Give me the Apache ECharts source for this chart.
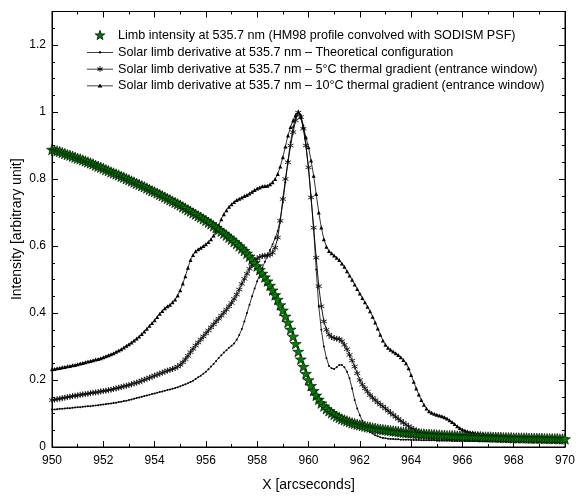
<!DOCTYPE html>
<html><head><meta charset="utf-8">
<script src="https://cdn.jsdelivr.net/npm/echarts@6/dist/echarts.min.js"></script>
<style>html,body{margin:0;padding:0;background:#fff}#c{width:577px;height:500px}</style>
</head><body><div id="c"></div>
<script>
const xArcsec = [
950.0,950.1,950.2,950.3,950.4,950.5,950.6,950.7,950.8,950.9,
951.0,951.1,951.2,951.3,951.4,951.5,951.6,951.7,951.8,951.9,
952.0,952.1,952.2,952.3,952.4,952.5,952.6,952.7,952.8,952.9,
953.0,953.1,953.2,953.3,953.4,953.5,953.6,953.7,953.8,953.9,
954.0,954.1,954.2,954.3,954.4,954.5,954.6,954.7,954.8,954.9,
955.0,955.1,955.2,955.3,955.4,955.5,955.6,955.7,955.8,955.9,
956.0,956.1,956.2,956.3,956.4,956.5,956.6,956.7,956.8,956.9,
957.0,957.1,957.2,957.3,957.4,957.5,957.6,957.7,957.8,957.9,
958.0,958.1,958.2,958.3,958.4,958.5,958.6,958.7,958.8,958.9,
959.0,959.1,959.2,959.3,959.4,959.5,959.6,959.7,959.8,959.9,
960.0,960.1,960.2,960.3,960.4,960.5,960.6,960.7,960.8,960.9,
961.0,961.1,961.2,961.3,961.4,961.5,961.6,961.7,961.8,961.9,
962.0,962.1,962.2,962.3,962.4,962.5,962.6,962.7,962.8,962.9,
963.0,963.1,963.2,963.3,963.4,963.5,963.6,963.7,963.8,963.9,
964.0,964.1,964.2,964.3,964.4,964.5,964.6,964.7,964.8,964.9,
965.0,965.1,965.2,965.3,965.4,965.5,965.6,965.7,965.8,965.9,
966.0,966.1,966.2,966.3,966.4,966.5,966.6,966.7,966.8,966.9,
967.0,967.1,967.2,967.3,967.4,967.5,967.6,967.7,967.8,967.9,
968.0,968.1,968.2,968.3,968.4,968.5,968.6,968.7,968.8,968.9,
969.0,969.1,969.2,969.3,969.4,969.5,969.6,969.7,969.8,969.9,
970.0];

const limbIntensity = [
0.888,0.886,0.884,0.882,0.879,0.876,0.873,0.871,0.868,0.865,
0.862,0.860,0.857,0.854,0.851,0.848,0.845,0.841,0.838,0.835,
0.832,0.828,0.825,0.821,0.818,0.815,0.812,0.808,0.805,0.801,
0.798,0.794,0.791,0.787,0.784,0.780,0.777,0.773,0.769,0.765,
0.762,0.758,0.754,0.750,0.746,0.742,0.738,0.734,0.730,0.726,
0.722,0.717,0.713,0.708,0.704,0.699,0.695,0.690,0.686,0.681,
0.676,0.671,0.666,0.660,0.655,0.649,0.644,0.638,0.632,0.626,
0.620,0.613,0.607,0.600,0.593,0.586,0.578,0.569,0.560,0.550,
0.540,0.529,0.518,0.507,0.495,0.482,0.468,0.454,0.440,0.424,
0.408,0.390,0.372,0.351,0.330,0.308,0.285,0.262,0.240,0.219,
0.200,0.183,0.168,0.154,0.142,0.131,0.122,0.114,0.108,0.102,
0.097,0.092,0.088,0.084,0.081,0.078,0.075,0.072,0.070,0.068,
0.066,0.064,0.062,0.060,0.059,0.057,0.056,0.054,0.053,0.052,
0.051,0.050,0.049,0.048,0.047,0.046,0.045,0.044,0.043,0.043,
0.042,0.041,0.040,0.040,0.039,0.039,0.038,0.038,0.037,0.037,
0.036,0.036,0.035,0.035,0.034,0.034,0.034,0.034,0.033,0.033,
0.032,0.032,0.032,0.032,0.031,0.031,0.031,0.031,0.030,0.030,
0.030,0.030,0.029,0.029,0.029,0.029,0.028,0.028,0.028,0.028,
0.027,0.027,0.027,0.027,0.027,0.027,0.026,0.026,0.026,0.026,
0.026,0.026,0.025,0.025,0.025,0.025,0.025,0.025,0.024,0.024,
0.024];

const derivTheoretical = [
0.112,0.112,0.113,0.114,0.114,0.115,0.116,0.116,0.117,0.118,
0.119,0.119,0.120,0.121,0.122,0.122,0.123,0.124,0.125,0.126,
0.127,0.128,0.129,0.130,0.131,0.132,0.134,0.135,0.137,0.138,
0.140,0.142,0.144,0.146,0.148,0.150,0.152,0.154,0.156,0.158,
0.160,0.162,0.164,0.166,0.168,0.170,0.172,0.174,0.176,0.178,
0.181,0.184,0.187,0.190,0.194,0.198,0.203,0.208,0.213,0.219,
0.225,0.232,0.240,0.248,0.257,0.266,0.274,0.282,0.289,0.296,
0.302,0.309,0.320,0.334,0.352,0.375,0.400,0.425,0.450,0.473,
0.495,0.515,0.535,0.553,0.570,0.588,0.605,0.623,0.645,0.680,
0.730,0.790,0.855,0.910,0.955,0.985,1.000,0.990,0.960,0.900,
0.830,0.745,0.650,0.530,0.420,0.350,0.300,0.265,0.242,0.235,
0.233,0.238,0.245,0.245,0.238,0.225,0.205,0.175,0.140,0.115,
0.095,0.078,0.065,0.054,0.045,0.040,0.035,0.032,0.029,0.027,
0.026,0.025,0.024,0.024,0.023,0.023,0.022,0.022,0.022,0.022,
0.021,0.021,0.021,0.021,0.020,0.020,0.020,0.020,0.020,0.020,
0.019,0.019,0.019,0.019,0.019,0.019,0.018,0.018,0.018,0.018,
0.018,0.018,0.018,0.018,0.018,0.018,0.017,0.017,0.017,0.017,
0.017,0.017,0.017,0.017,0.017,0.017,0.017,0.017,0.016,0.016,
0.016,0.016,0.016,0.016,0.016,0.016,0.016,0.016,0.016,0.016,
0.016,0.016,0.015,0.015,0.015,0.015,0.015,0.015,0.015,0.015,
0.015];

const deriv5C = [
0.140,0.141,0.143,0.144,0.146,0.147,0.149,0.150,0.152,0.153,
0.154,0.156,0.157,0.158,0.159,0.161,0.162,0.163,0.164,0.166,
0.167,0.168,0.170,0.171,0.173,0.175,0.177,0.179,0.181,0.183,
0.185,0.187,0.190,0.192,0.195,0.198,0.201,0.204,0.207,0.210,
0.213,0.216,0.219,0.222,0.225,0.228,0.230,0.233,0.236,0.240,
0.245,0.253,0.262,0.272,0.283,0.293,0.303,0.312,0.321,0.330,
0.339,0.348,0.357,0.366,0.375,0.383,0.392,0.401,0.410,0.420,
0.430,0.442,0.455,0.470,0.487,0.502,0.517,0.532,0.545,0.555,
0.562,0.567,0.570,0.571,0.572,0.574,0.580,0.595,0.625,0.675,
0.740,0.800,0.850,0.900,0.940,0.975,0.998,0.985,0.950,0.900,
0.835,0.745,0.655,0.565,0.480,0.420,0.375,0.350,0.335,0.328,
0.325,0.323,0.322,0.316,0.305,0.292,0.275,0.258,0.240,0.220,
0.200,0.186,0.175,0.165,0.155,0.147,0.140,0.133,0.127,0.121,
0.115,0.108,0.102,0.096,0.090,0.084,0.078,0.072,0.067,0.062,
0.057,0.053,0.049,0.045,0.042,0.039,0.037,0.035,0.033,0.031,
0.030,0.030,0.029,0.029,0.028,0.028,0.027,0.027,0.027,0.027,
0.026,0.026,0.026,0.026,0.025,0.025,0.025,0.025,0.024,0.024,
0.024,0.024,0.024,0.024,0.023,0.023,0.023,0.023,0.023,0.023,
0.022,0.022,0.022,0.022,0.022,0.022,0.021,0.021,0.021,0.021,
0.021,0.021,0.021,0.021,0.020,0.020,0.020,0.020,0.020,0.020,
0.020];

const deriv10C = [
0.232,0.233,0.235,0.236,0.238,0.239,0.241,0.242,0.244,0.245,
0.247,0.249,0.251,0.253,0.255,0.257,0.259,0.261,0.263,0.265,
0.268,0.271,0.274,0.277,0.280,0.284,0.288,0.292,0.297,0.302,
0.307,0.312,0.318,0.324,0.330,0.337,0.345,0.353,0.362,0.370,
0.378,0.388,0.398,0.406,0.414,0.420,0.425,0.432,0.440,0.452,
0.468,0.488,0.510,0.535,0.558,0.573,0.584,0.590,0.595,0.600,
0.605,0.612,0.620,0.631,0.645,0.662,0.680,0.695,0.707,0.717,
0.725,0.731,0.737,0.741,0.745,0.749,0.752,0.757,0.762,0.767,
0.772,0.775,0.778,0.779,0.780,0.784,0.790,0.800,0.815,0.837,
0.865,0.897,0.930,0.955,0.975,0.992,1.000,0.985,0.955,0.925,
0.895,0.855,0.810,0.755,0.700,0.655,0.620,0.598,0.585,0.578,
0.572,0.565,0.558,0.548,0.538,0.525,0.512,0.499,0.485,0.472,
0.458,0.445,0.432,0.419,0.405,0.389,0.372,0.354,0.335,0.318,
0.305,0.296,0.290,0.285,0.280,0.275,0.268,0.260,0.250,0.235,
0.215,0.195,0.175,0.157,0.140,0.126,0.115,0.107,0.102,0.099,
0.096,0.094,0.092,0.089,0.085,0.080,0.075,0.069,0.062,0.057,
0.052,0.049,0.046,0.044,0.043,0.041,0.040,0.039,0.038,0.037,
0.036,0.036,0.035,0.035,0.034,0.034,0.033,0.033,0.032,0.032,
0.031,0.031,0.030,0.030,0.030,0.030,0.029,0.029,0.028,0.028,
0.028,0.028,0.027,0.027,0.027,0.027,0.026,0.026,0.026,0.026,
0.025];

const seriesNames = [
  'Limb intensity at 535.7 nm (HM98 profile convolved with SODISM PSF)',
  'Solar limb derivative at 535.7 nm \u2013 Theoretical configuration',
  'Solar limb derivative at 535.7 nm \u2013 5\u00b0C thermal gradient (entrance window)',
  'Solar limb derivative at 535.7 nm \u2013 10\u00b0C thermal gradient (entrance window)'
];
const xAxisTitle = 'X [arcseconds]';
const yAxisTitle = 'Intensity [arbitrary unit]';

const pairs = ys => xArcsec.map((x, i) => [x, ys[i]]);
const FONT = 'Liberation Sans';
const STAR = 'path://M0,-10L2.35,-3.24L9.51,-3.09L3.8,1.24L5.88,8.09L0,4L-5.88,8.09L-3.8,1.24L-9.51,-3.09L-2.35,-3.24Z';
const ASTER = 'path://M0,-5L0,5M-4.33,-2.5L4.33,2.5M-4.33,2.5L4.33,-2.5';

// legend icons drawn in a 26x12 box; tiny specks pin the bounding box
const BOX = 'M13,0L13.02,0L13.02,0.02ZM13,12L13.02,12L13.02,11.98Z';
const LINE = 'M0,5.6L26,5.6L26,6.4L0,6.4Z';
const ICON_STAR = 'path://' + BOX + 'M15,0.9L16.18,4.38L19.76,4.46L16.9,6.62L17.94,10.04L15,8L12.06,10.04L13.1,6.62L10.24,4.46L13.82,4.38Z';
const ICON_DOT = 'path://' + BOX + LINE + 'M12,5L14,5L14,7L12,7Z';
const ICON_AST = 'path://' + BOX + LINE + 'M12.6,3L13.4,3L13.4,9L12.6,9Z' +
  'M10.6,4.15L15.8,7.15L15.4,7.85L10.2,4.85Z' + 'M10.2,7.15L15.4,4.15L15.8,4.85L10.6,7.85Z';
const ICON_TRI = 'path://' + BOX + LINE + 'M13,3.6L15.4,7.6L10.6,7.6Z';

const commonAxis = {
  axisLine: {show: true, onZero: false, lineStyle: {color: '#000', width: 1}},
  axisTick: {show: true, inside: true, length: 6, lineStyle: {color: '#000'}},
  minorTick: {show: true, length: 3, lineStyle: {color: '#000'}},
  splitLine: {show: false},
  axisLabel: {color: '#000', fontFamily: FONT, fontSize: 12}
};

const chart = echarts.init(document.getElementById('c'), null, {renderer: 'canvas'});
chart.setOption({
  animation: false,
  backgroundColor: '#fff',
  grid: {left: 52, right: 12, top: 11.5, bottom: 53, show: true, borderColor: '#000', borderWidth: 1,
         containLabel: false, outerBoundsMode: 'none'},
  legend: {
    orient: 'vertical', left: 82, top: 24, itemWidth: 26, itemHeight: 12, itemGap: 3.8,
    textStyle: {color: '#000', fontFamily: FONT, fontSize: 12.6},
    data: [
      {name: seriesNames[0], icon: ICON_STAR, itemStyle: {color: '#007f00', borderColor: '#000', borderWidth: 0.8}},
      {name: seriesNames[1], icon: ICON_DOT, itemStyle: {color: '#000', borderWidth: 0}},
      {name: seriesNames[2], icon: ICON_AST, itemStyle: {color: '#000', borderWidth: 0}},
      {name: seriesNames[3], icon: ICON_TRI, itemStyle: {color: '#000', borderWidth: 0}}
    ]
  },
  xAxis: [
    Object.assign({}, commonAxis, {
      type: 'value', min: 950, max: 970, interval: 2, position: 'bottom',
      minorTick: Object.assign({}, commonAxis.minorTick, {splitNumber: 2}),
      axisLabel: Object.assign({}, commonAxis.axisLabel, {margin: 8}),
      name: xAxisTitle, nameLocation: 'middle', nameGap: 31,
      nameTextStyle: {color: '#000', fontFamily: FONT, fontSize: 14}
    }),
    Object.assign({}, commonAxis, {
      type: 'value', min: 950, max: 970, interval: 2, position: 'top',
      minorTick: Object.assign({}, commonAxis.minorTick, {splitNumber: 2}),
      axisLabel: {show: false}
    })
  ],
  yAxis: [
    Object.assign({}, commonAxis, {
      type: 'value', min: 0, max: 1.3, interval: 0.2, position: 'left',
      minorTick: Object.assign({}, commonAxis.minorTick, {splitNumber: 4}),
      axisLabel: Object.assign({}, commonAxis.axisLabel, {margin: 6, showMaxLabel: false}),
      name: yAxisTitle, nameLocation: 'middle', nameGap: 28, nameRotate: 90, nameMoveOverlap: false,
      nameTextStyle: {color: '#000', fontFamily: FONT, fontSize: 14}
    }),
    Object.assign({}, commonAxis, {
      type: 'value', min: 0, max: 1.3, interval: 0.2, position: 'right',
      minorTick: Object.assign({}, commonAxis.minorTick, {splitNumber: 4}),
      axisLabel: {show: false}
    })
  ],
  series: [
    {
      name: seriesNames[0], type: 'scatter', data: pairs(limbIntensity), z: 5, clip: false,
      symbol: STAR, symbolSize: 11, symbolKeepAspect: true,
      itemStyle: {color: '#007f00', borderColor: '#000', borderWidth: 0.6, opacity: 1}
    },
    {
      name: seriesNames[1], type: 'line', data: pairs(derivTheoretical), z: 2,
      symbol: 'circle', symbolSize: 2, showAllSymbol: true,
      lineStyle: {color: '#000', width: 0.8}, itemStyle: {color: '#000', borderWidth: 0}
    },
    {
      name: seriesNames[2], type: 'line', data: pairs(deriv5C), z: 3,
      symbol: ASTER, symbolSize: 6, showAllSymbol: true,
      lineStyle: {color: '#000', width: 0.9}, itemStyle: {color: '#000', borderColor: '#111', borderWidth: 0.9}
    },
    {
      name: seriesNames[3], type: 'line', data: pairs(deriv10C), z: 4,
      symbol: 'triangle', symbolSize: 4, showAllSymbol: true,
      lineStyle: {color: '#000', width: 0.8}, itemStyle: {color: '#000', borderWidth: 0}
    }
  ]
});
</script></body></html>
